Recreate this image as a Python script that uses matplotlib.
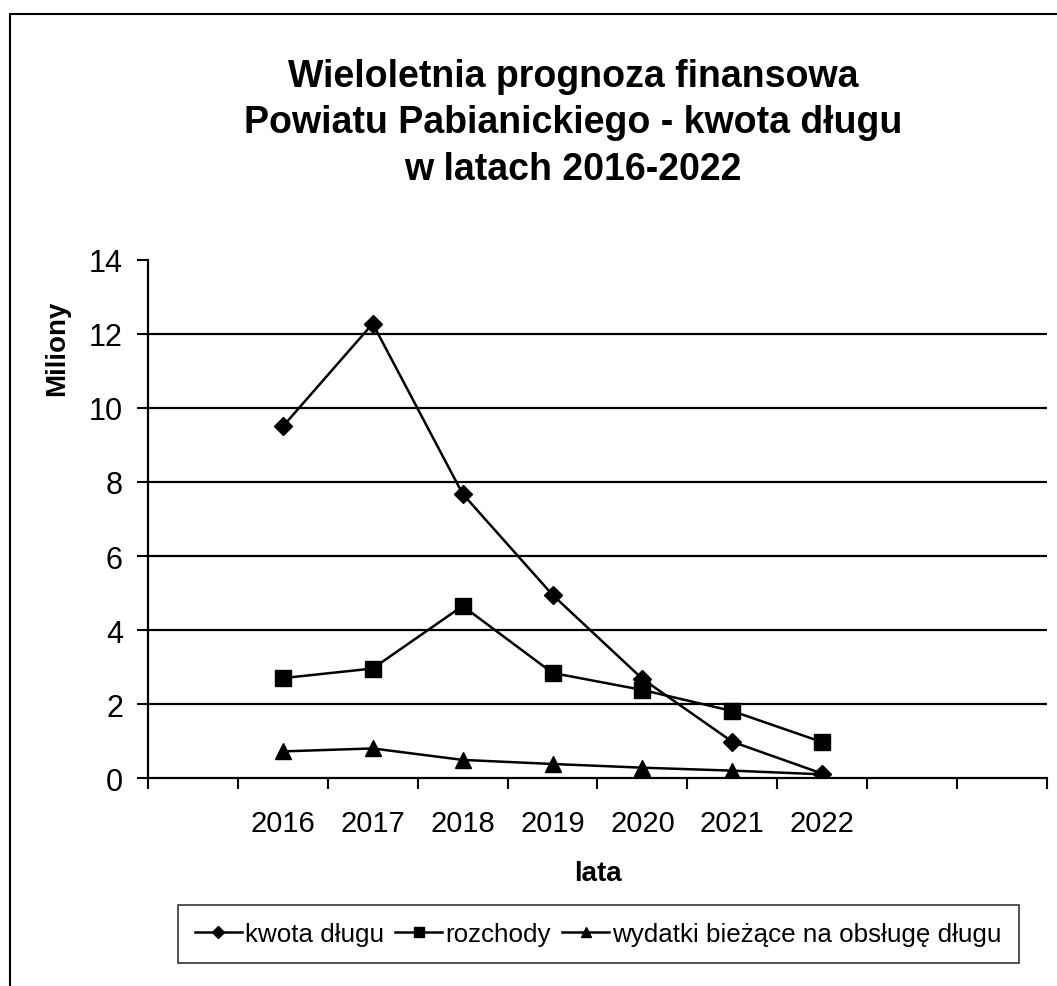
import matplotlib
matplotlib.use("Agg")
import matplotlib.pyplot as plt
from matplotlib.patches import Rectangle

plt.rcParams["font.family"] = ["Liberation Sans", "DejaVu Sans"]

# categories on the axis (Excel left empty slots around the years)
categories = ["", "2016", "2017", "2018", "2019", "2020", "2021", "2022", "", ""]
years = ["2016", "2017", "2018", "2019", "2020", "2021", "2022"]

kwota_dlugu = [9.50, 12.28, 7.68, 4.95, 2.68, 0.98, 0.12]
rozchody = [2.70, 2.96, 4.65, 2.84, 2.38, 1.81, 0.97]
wydatki_obsluga = [0.72, 0.80, 0.49, 0.38, 0.28, 0.20, 0.10]

series_labels = ["kwota długu", "rozchody", "wydatki bieżące na obsługę długu"]
y_ticks = [0, 2, 4, 6, 8, 10, 12, 14]

fig = plt.figure(figsize=(10.57, 9.87), dpi=100)
ax = fig.add_axes([0.140, 0.2107, 0.8505, 0.5249])

pos = [categories.index(y) for y in years]

ax.plot(pos, kwota_dlugu, color="black", lw=1.8, marker="D", ms=9.5, label=series_labels[0])
ax.plot(pos, rozchody, color="black", lw=1.8, marker="s", ms=11.5, label=series_labels[1])
ax.plot(pos, wydatki_obsluga, color="black", lw=1.8, marker="^", ms=11.5, label=series_labels[2])

ax.set_xlim(-0.5, len(categories) - 0.5)
ax.set_ylim(0, 14)
ax.set_yticks(y_ticks)
for v in y_ticks[1:-1]:
    ax.axhline(v, color="black", lw=1.6, zorder=0)

# tick marks on category boundaries, labels in the middle
ax.set_xticks([i - 0.5 for i in range(len(categories) + 1)])
ax.set_xticklabels([])
ax.set_xticks(range(len(categories)), minor=True)
ax.set_xticklabels(categories, minor=True)
ax.tick_params(axis="x", which="major", direction="out", length=8, width=1.5)
ax.tick_params(axis="x", which="minor", length=0, pad=22, labelsize=21)
ax.tick_params(axis="y", direction="out", length=8, width=1.5, labelsize=22, pad=10)

for s in ["top", "right"]:
    ax.spines[s].set_visible(False)
for s in ["left", "bottom"]:
    ax.spines[s].set_linewidth(1.6)

ax.set_ylabel("Miliony", fontsize=20, fontweight="bold")
ax.yaxis.set_label_coords(-0.087, 0.832)
ax.set_xlabel("lata", fontsize=20, fontweight="bold", labelpad=17)

fig.text(0.542, 0.875, "Wieloletnia prognoza finansowa\nPowiatu Pabianickiego - kwota długu\nw latach 2016-2022",
         ha="center", va="center", fontsize=27, fontweight="bold", linespacing=1.38)

leg = fig.legend(loc="center", bbox_to_anchor=(0.566, 0.0527), ncol=3, fontsize=18.7,
                 frameon=True, fancybox=False, edgecolor="black", handlelength=1.8,
                 handletextpad=0.12, columnspacing=0.45, markerscale=0.6, borderpad=0.65,
                 borderaxespad=0)
leg.get_frame().set_linewidth(1.2)

fig.patches.append(Rectangle((10 / 1057, -0.1), 1.2, 1 - 15 / 987 + 0.1, transform=fig.transFigure,
                             fill=False, edgecolor="black", lw=1.5))

fig.savefig("out.png", dpi=100)
